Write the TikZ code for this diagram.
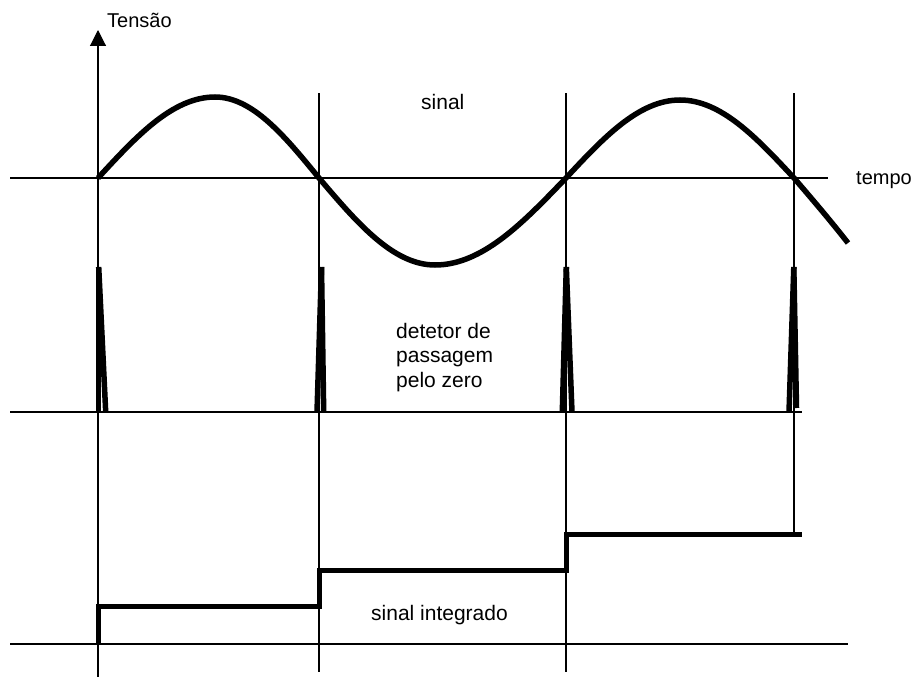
\documentclass[tikz,border=0pt]{standalone}
\usepackage{fontspec}
\setmainfont{Liberation Sans}
\usetikzlibrary{arrows.meta}
\begin{document}
\begin{tikzpicture}[x=1pt,y=-1pt,
  thin line/.style={line width=1.1pt,black},
  thick curve/.style={line width=5.5pt,black,line cap=butt},
  stair/.style={line width=5pt,black,line join=miter,line cap=butt},
  lbl/.style={inner sep=0pt,font=\fontsize{21}{25}\selectfont},
  axlbl/.style={inner sep=0pt,font=\fontsize{20}{24}\selectfont}]
\useasboundingbox (0,0) rectangle (918,677);
% key points
\coordinate (z0) at (98,178);
\coordinate (p1) at (215,97);
\coordinate (z1) at (319,178);
\coordinate (t1) at (435,265);
\coordinate (z2) at (566,178);
\coordinate (p2) at (680,100);
\coordinate (z3) at (794,178);
\coordinate (tail) at (848,243);
% axes and baselines
\draw[thin line,-{Triangle[width=16pt,length=16pt]}] (98,677) -- (98,30);
\draw[thin line] (10,178) -- (828,178);
\draw[thin line] (10,412) -- (802,412);
\draw[thin line] (10,644) -- (848,644);
% vertical guide lines
\draw[thin line] (319,93) -- (319,672);
\draw[thin line] (566,93) -- (566,672);
\draw[thin line] (794,93) -- (794,534);
% signal
\draw[thick curve] (z0) sin (p1) cos (z1) sin (t1) cos (z2) sin (p2) cos (z3)
  .. controls (812,199) and (830,220) .. (tail);
% zero-crossing spikes
\draw[thick curve] (98.7,267) -- (98.7,412);
\draw[thick curve] (98.7,267) -- (105.7,412);
\draw[thick curve] (321.5,267) -- (317,412);
\draw[thick curve] (321.5,267) -- (323.7,412);
\draw[thick curve] (566.3,267) -- (562.3,412);
\draw[thick curve] (566.3,267) -- (572,412);
\draw[thick curve] (793.8,267) -- (789,412);
\draw[thick curve] (793.8,267) -- (796.5,408);
% integrated signal
\draw[stair] (98,644) -- (98,606.5) -- (319,606.5) -- (319,570) -- (566,570) -- (566,534) -- (802,534);
% labels
\node[axlbl,anchor=base west] (tensao) at (107,28) {Tensão};
\node[axlbl,anchor=base west] (tempo) at (856,184) {tempo};
\node[lbl,anchor=base west] (sinal) at (421,109) {sinal};
\node[lbl,anchor=base west] (det1) at (396,338) {detetor de};
\node[lbl,anchor=base west] (det2) at (396,362.5) {passagem};
\node[lbl,anchor=base west] (det3) at (396,387) {pelo zero};
\node[lbl,anchor=base west] (integ) at (371,620) {sinal integrado};
\end{tikzpicture}
\end{document}
